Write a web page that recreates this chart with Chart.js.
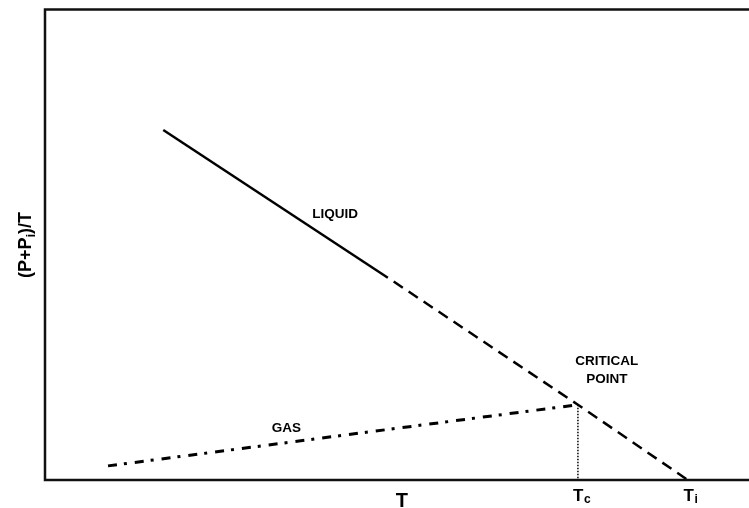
<!DOCTYPE html>
<html>
<head>
<meta charset="utf-8">
<script src="https://cdn.jsdelivr.net/npm/chart.js@4.4.1/dist/chart.umd.min.js"></script>
<style>
  html, body { margin: 0; padding: 0; background: #fff; }
  #wrap { width: 749px; height: 508px; }
</style>
</head>
<body>
<div id="wrap"><canvas id="c" width="749" height="508"></canvas></div>
<script>
// Reduced variable plot: (P+Pi)/T against T
const liquidSolidX = [16.8, 48.7];
const liquidSolidY = [74.4, 43.0];
const liquidDashX = [48.7, 75.7, 91.3];
const liquidDashY = [43.0, 16.0, 0];
const gasX = [8.95, 75.7];
const gasY = [3.0, 16.0];
const criticalX = [75.7, 75.7];
const criticalY = [16.0, 0];

// axis labels below the T axis: [base, subscript, x value]
const tickBase = ['T', 'T'];
const tickSub = ['c', 'i'];
const tickX = [75.6, 91.3];
const xTitle = 'T';
const yTitleBase = '(P+P';
const yTitleSub = 'i';
const yTitleEnd = ')/T';

// region names: text lines and anchor in data units
const noteText = [['LIQUID'], ['CRITICAL', 'POINT'], ['GAS']];
const noteX = [41.2, 79.8, 34.3];
const noteY = [56.4, 25.3, 11.0];

const zip = (xs, ys) => xs.map((x, i) => ({ x: x, y: ys[i] }));
const FONT = '"Liberation Sans", Arial, sans-serif';

const framePlugin = {
  id: 'frame',
  afterDatasetsDraw(chart) {
    const { ctx, chartArea: a, scales } = chart;
    ctx.save();
    // box on top, left and bottom
    ctx.strokeStyle = '#111';
    ctx.lineWidth = 2.5;
    ctx.beginPath();
    ctx.moveTo(chart.width + 2, a.top);
    ctx.lineTo(a.left, a.top);
    ctx.lineTo(a.left, a.bottom);
    ctx.lineTo(chart.width + 2, a.bottom);
    ctx.stroke();

    ctx.fillStyle = '#000';
    ctx.textBaseline = 'alphabetic';

    // T axis title
    ctx.font = 'bold 20px ' + FONT;
    ctx.textAlign = 'center';
    ctx.fillText(xTitle, scales.x.getPixelForValue(50.7), 507);

    // T_c and T_i
    tickBase.forEach((b, i) => {
      const px = scales.x.getPixelForValue(tickX[i]);
      ctx.font = 'bold 17px ' + FONT;
      const w = ctx.measureText(b).width;
      ctx.textAlign = 'center';
      ctx.fillText(b, px + 1, 500.5);
      ctx.font = 'bold 12px ' + FONT;
      ctx.textAlign = 'left';
      ctx.fillText(tickSub[i], px + 1 + w / 2 + 0.5, 503);
    });

    // vertical axis title with subscript
    ctx.save();
    ctx.translate(31, 245);
    ctx.rotate(-Math.PI / 2);
    ctx.font = 'bold 18px ' + FONT;
    const w1 = ctx.measureText(yTitleBase).width;
    const w3 = ctx.measureText(yTitleEnd).width;
    ctx.font = 'bold 13px ' + FONT;
    const w2 = ctx.measureText(yTitleSub).width;
    let sx = -(w1 + w2 + w3) / 2;
    ctx.textAlign = 'left';
    ctx.font = 'bold 18px ' + FONT;
    ctx.fillText(yTitleBase, sx, 0);
    ctx.font = 'bold 13px ' + FONT;
    ctx.fillText(yTitleSub, sx + w1, 4);
    ctx.font = 'bold 18px ' + FONT;
    ctx.fillText(yTitleEnd, sx + w1 + w2, 0);
    ctx.restore();

    // region names
    ctx.textAlign = 'center';
    ctx.textBaseline = 'middle';
    ctx.font = 'bold 13.5px ' + FONT;
    noteText.forEach((lines, i) => {
      const px = scales.x.getPixelForValue(noteX[i]);
      const py = scales.y.getPixelForValue(noteY[i]);
      lines.forEach((t, k) => ctx.fillText(t, px, py + k * 18));
    });
    ctx.restore();
  }
};

const line = (data, dash, width, offset) => ({
  data: data,
  borderColor: '#000',
  borderWidth: width,
  borderDash: dash,
  borderDashOffset: offset || 0,
  borderCapStyle: 'butt',
  pointRadius: 0,
  fill: false,
  tension: 0
});

new Chart(document.getElementById('c'), {
  type: 'line',
  data: {
    datasets: [
      line(zip(liquidSolidX, liquidSolidY), [], 2.5),
      line(zip(liquidDashX, liquidDashY), [11, 7], 2.5, 11),
      line(zip(gasX, gasY), [9, 7, 3, 8], 3),
      line(zip(criticalX, criticalY), [1.5, 1.5], 1.5)
    ]
  },
  options: {
    responsive: false,
    animation: false,
    events: [],
    layout: { padding: { left: 45, top: 9.5, right: 0, bottom: 28 } },
    plugins: { legend: { display: false }, tooltip: { enabled: false } },
    scales: {
      x: { type: 'linear', min: 0, max: 100, display: false },
      y: { type: 'linear', min: 0, max: 100, display: false }
    }
  },
  plugins: [framePlugin]
});
</script>
</body>
</html>
